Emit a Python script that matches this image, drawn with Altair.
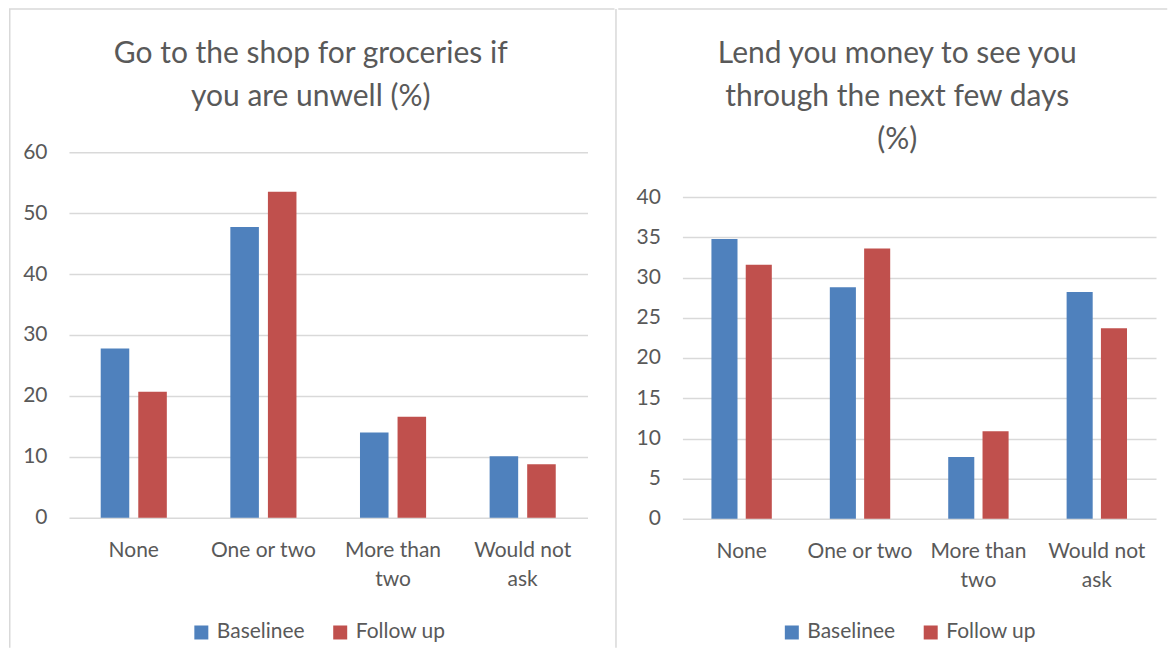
import altair as alt
import pandas as pd

categories = ["None", "One or two", "More than two", "Would not ask"]
series = ["Baselinee", "Follow up"]
colors = ["#4F81BD", "#C0504D"]

groceries_baseline = [27.8, 47.7, 14.0, 10.1]
groceries_followup = [20.7, 53.5, 16.6, 8.8]
money_baseline = [34.8, 28.8, 7.7, 28.2]
money_followup = [31.6, 33.6, 10.9, 23.7]

title_groceries = ["Go to the shop for groceries if", "you are unwell (%)"]
title_money = ["Lend you money to see you", "through the next few days", "(%)"]
ticks_groceries = [0, 10, 20, 30, 40, 50, 60]
ticks_money = [0, 5, 10, 15, 20, 25, 30, 35, 40]

FONT = "Lato"
TEXT = "#595959"
GRID = "#D9D9D9"

label_expr = ("datum.label == 'More than two' ? ['More than', 'two'] : "
              "datum.label == 'Would not ask' ? ['Would not', 'ask'] : datum.label")


def panel(base, follow, title, ticks, width, height, y_top, title_x, legend_x, frame_rules):
    df = pd.DataFrame({
        "category": categories * 2,
        "series": [series[0]] * len(categories) + [series[1]] * len(categories),
        "value": base + follow,
    })
    bars = alt.Chart(df).mark_bar().encode(
        x=alt.X("category:N", sort=categories,
                scale=alt.Scale(paddingInner=0.49, paddingOuter=0.245),
                axis=alt.Axis(title=None, labelAngle=0, domain=False, ticks=False, grid=False,
                              labelPadding=22, labelLineHeight=29, labelExpr=label_expr,
                              labelFont=FONT, labelFontSize=21, labelColor=TEXT)),
        xOffset=alt.XOffset("series:N", sort=series,
                            scale=alt.Scale(paddingInner=0.24, paddingOuter=0)),
        y=alt.Y("value:Q",
                scale=alt.Scale(domain=[ticks[0], ticks[-1]], nice=False, range=[height, y_top]),
                axis=alt.Axis(title=None, values=ticks, domain=False, ticks=False,
                              labelPadding=22, gridColor=GRID, gridWidth=1.5,
                              labelFont=FONT, labelFontSize=21, labelColor=TEXT)),
        color=alt.Color("series:N", sort=series,
                        scale=alt.Scale(domain=series, range=colors),
                        legend=alt.Legend(title=None, orient="none", direction="horizontal",
                                          legendX=legend_x, legendY=470,
                                          symbolType="square", symbolSize=196,
                                          symbolStrokeWidth=0, columnPadding=25,
                                          labelOffset=5, padding=0,
                                          labelFont=FONT, labelFontSize=21, labelColor=TEXT)),
    )
    title_mark = alt.Chart(alt.Data(values=[{"t": 1}])).mark_text(
        font=FONT, fontSize=30, color=TEXT, align="center", baseline="alphabetic",
        lineHeight=43,
    ).encode(x=alt.value(title_x), y=alt.value(-89.3), text=alt.value(title))
    layers = [bars, title_mark]
    for r in frame_rules:
        layers.append(
            alt.Chart(alt.Data(values=[{"f": 1}])).mark_rule(color=GRID, strokeWidth=1.5)
            .encode(**{k: alt.value(v) for k, v in r.items()})
        )
    return alt.layer(*layers).properties(width=width, height=height)


left = panel(groceries_baseline, groceries_followup, title_groceries, ticks_groceries,
             519, 366, 0, 242, 122,
             [
                 {"x": -59.25, "y": -143.25, "y2": 496},
                 {"x": -60, "x2": 546, "y": -143.25},
                 {"x": 547.5, "y": -143.25, "y2": 496},
             ])

right = panel(money_baseline, money_followup, title_money, ticks_money,
              474, 367, 45, 215, 99,
              [
                  {"x": -64.25, "x2": 485.25, "y": -143.25},
              ])

chart = alt.hconcat(left, right, spacing=0).resolve_scale(
    color="independent", x="independent", y="independent", xOffset="independent"
).properties(padding=0, background="white").configure_view(stroke=None)

chart.save("out.html", embed_options={"renderer": "svg", "actions": False})
